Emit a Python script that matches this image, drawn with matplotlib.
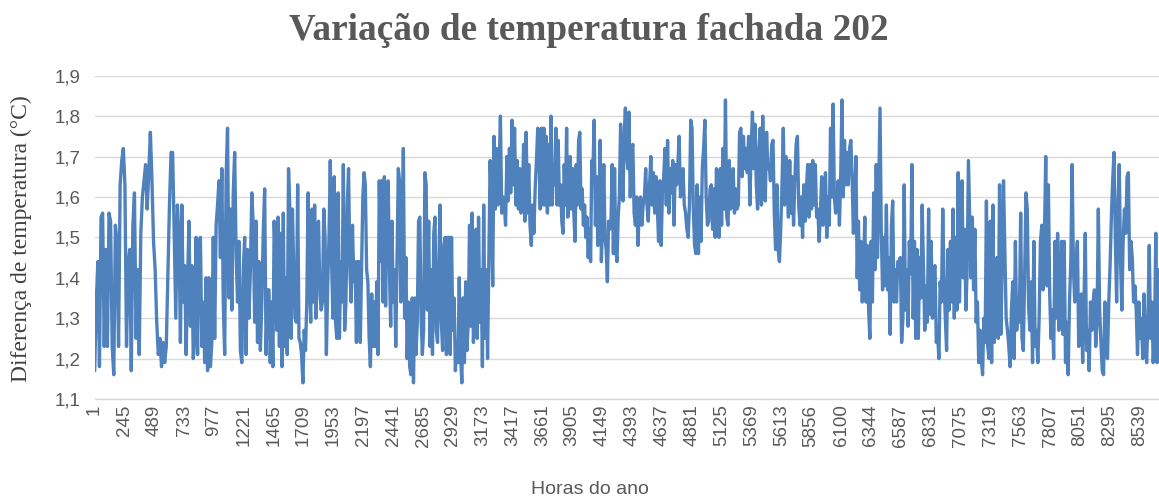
import numpy as np
import matplotlib
matplotlib.use("Agg")
import matplotlib.pyplot as plt
from matplotlib.ticker import FuncFormatter, MultipleLocator

# temperature difference (°C) over the year, read in stretches;
# each stretch begins at the hour given in segment_start_hours
segment_start_hours = [2, 691, 1426, 2162, 2897, 3633, 4368, 5104, 5839, 6575, 7310, 8054]
last_hour = 8705

seg_01 = [1.17, 1.34, 1.44, 1.18, 1.55, 1.56, 1.23, 1.47, 1.23, 1.56, 1.54, 1.23, 1.16, 1.53, 1.49, 1.23,
          1.63, 1.69, 1.72, 1.63, 1.23, 1.43, 1.47, 1.17, 1.53, 1.61, 1.25, 1.42, 1.21, 1.51, 1.60, 1.64,
          1.68, 1.57, 1.66, 1.76, 1.64, 1.49, 1.42, 1.29, 1.21, 1.25, 1.18, 1.24, 1.19, 1.23, 1.40, 1.58,
          1.71, 1.71, 1.50, 1.30, 1.58]
seg_02 = [1.50, 1.24, 1.58, 1.34, 1.43, 1.21, 1.39, 1.54, 1.28, 1.43, 1.20, 1.26, 1.50, 1.21, 1.49, 1.50,
          1.23, 1.34, 1.19, 1.40, 1.17, 1.40, 1.18, 1.24, 1.50, 1.25, 1.53, 1.58, 1.64, 1.45, 1.67, 1.34,
          1.21, 1.65, 1.77, 1.35, 1.57, 1.32, 1.61, 1.71, 1.46, 1.34, 1.49, 1.22, 1.19, 1.42, 1.50, 1.21,
          1.47, 1.30, 1.42, 1.61, 1.53, 1.29, 1.54, 1.24, 1.44, 1.22, 1.34, 1.51, 1.62, 1.21, 1.37]
seg_03 = [1.37, 1.19, 1.34, 1.18, 1.54, 1.44, 1.27, 1.55, 1.23, 1.51, 1.18, 1.56, 1.23, 1.40, 1.21, 1.67,
          1.57, 1.25, 1.57, 1.42, 1.30, 1.29, 1.63, 1.25, 1.24, 1.21, 1.14, 1.27, 1.22, 1.34, 1.61, 1.40,
          1.29, 1.57, 1.34, 1.58, 1.30, 1.52, 1.54, 1.36, 1.32, 1.34, 1.57, 1.50, 1.21, 1.38, 1.50, 1.69,
          1.44, 1.30, 1.65, 1.29, 1.25, 1.61, 1.25, 1.44, 1.34, 1.68, 1.27, 1.34, 1.58, 1.67, 1.42, 1.34,
          1.53, 1.39, 1.44, 1.24, 1.44]
seg_04 = [1.44, 1.24, 1.42, 1.60, 1.66, 1.63, 1.42, 1.39, 1.25, 1.18, 1.36, 1.23, 1.34, 1.23, 1.39, 1.21,
          1.64, 1.44, 1.64, 1.34, 1.65, 1.33, 1.61, 1.64, 1.42, 1.28, 1.54, 1.34, 1.42, 1.23, 1.44, 1.67,
          1.64, 1.34, 1.47, 1.72, 1.30, 1.45, 1.20, 1.34, 1.18, 1.16, 1.35, 1.14, 1.35, 1.21, 1.29, 1.54,
          1.55, 1.30, 1.21, 1.27, 1.66, 1.63, 1.32, 1.54, 1.23, 1.42, 1.21, 1.51, 1.55, 1.27, 1.24, 1.43,
          1.58, 1.29, 1.22, 1.48, 1.50, 1.21, 1.50]
seg_05 = [1.50, 1.21, 1.50, 1.27, 1.35, 1.17, 1.24, 1.19, 1.40, 1.21, 1.14, 1.35, 1.19, 1.39, 1.22, 1.29,
          1.53, 1.28, 1.56, 1.24, 1.34, 1.52, 1.25, 1.55, 1.29, 1.42, 1.18, 1.58, 1.25, 1.42, 1.20, 1.44,
          1.69, 1.57, 1.38, 1.75, 1.57, 1.72, 1.58, 1.67, 1.80, 1.56, 1.60, 1.58, 1.53, 1.70, 1.59, 1.72,
          1.61, 1.79, 1.63, 1.77, 1.58, 1.69, 1.57, 1.67, 1.56, 1.59, 1.73, 1.54, 1.76, 1.56, 1.68, 1.53,
          1.48, 1.58, 1.51, 1.62, 1.69, 1.77]
seg_06 = [1.70, 1.57, 1.77, 1.58, 1.77, 1.58, 1.75, 1.56, 1.73, 1.58, 1.80, 1.58, 1.68, 1.63, 1.77, 1.58,
          1.74, 1.58, 1.63, 1.54, 1.51, 1.68, 1.58, 1.77, 1.55, 1.66, 1.70, 1.57, 1.67, 1.56, 1.49, 1.68,
          1.58, 1.74, 1.76, 1.57, 1.62, 1.53, 1.58, 1.50, 1.55, 1.45, 1.52, 1.44, 1.69, 1.67, 1.79, 1.53,
          1.65, 1.48, 1.58, 1.74, 1.44, 1.54, 1.68, 1.50, 1.47, 1.39, 1.54, 1.52, 1.54, 1.68, 1.46, 1.67,
          1.47, 1.44, 1.55, 1.60, 1.78, 1.67, 1.59, 1.75, 1.82, 1.71, 1.67]
seg_07 = [1.81, 1.60, 1.71, 1.73, 1.56, 1.53, 1.60, 1.48, 1.57, 1.60, 1.53, 1.58, 1.60, 1.67, 1.58, 1.54,
          1.63, 1.70, 1.58, 1.66, 1.56, 1.65, 1.58, 1.49, 1.64, 1.48, 1.61, 1.65, 1.72, 1.58, 1.74, 1.56,
          1.67, 1.61, 1.69, 1.53, 1.68, 1.63, 1.68, 1.75, 1.60, 1.64, 1.67, 1.58, 1.56, 1.52, 1.50, 1.58,
          1.79, 1.77, 1.57, 1.48, 1.46, 1.63, 1.46, 1.60, 1.49, 1.67, 1.72, 1.79, 1.60, 1.53, 1.54, 1.62,
          1.63, 1.52, 1.62, 1.50, 1.67, 1.56]
seg_08 = [1.50, 1.67, 1.53, 1.72, 1.57, 1.84, 1.55, 1.53, 1.69, 1.57, 1.58, 1.67, 1.56, 1.62, 1.57, 1.58,
          1.76, 1.77, 1.65, 1.75, 1.67, 1.72, 1.66, 1.75, 1.58, 1.72, 1.81, 1.67, 1.78, 1.63, 1.57, 1.72,
          1.77, 1.58, 1.80, 1.63, 1.59, 1.76, 1.67, 1.68, 1.64, 1.73, 1.74, 1.56, 1.47, 1.63, 1.47, 1.44,
          1.52, 1.63, 1.77, 1.58, 1.70, 1.64, 1.55, 1.69, 1.56, 1.65, 1.53, 1.64, 1.73, 1.75, 1.58, 1.53,
          1.60, 1.50, 1.63, 1.54, 1.62, 1.68]
seg_09 = [1.55, 1.68, 1.57, 1.69, 1.58, 1.68, 1.55, 1.57, 1.49, 1.56, 1.65, 1.53, 1.58, 1.66, 1.50, 1.60,
          1.53, 1.77, 1.60, 1.83, 1.60, 1.56, 1.58, 1.64, 1.53, 1.65, 1.84, 1.60, 1.74, 1.63, 1.71, 1.63,
          1.72, 1.74, 1.65, 1.51, 1.57, 1.70, 1.40, 1.54, 1.37, 1.49, 1.34, 1.42, 1.55, 1.34, 1.48, 1.32,
          1.25, 1.49, 1.34, 1.61, 1.42, 1.68, 1.45, 1.63, 1.82, 1.51, 1.37, 1.50, 1.38, 1.58, 1.37, 1.45,
          1.26, 1.53, 1.59, 1.34, 1.42, 1.34, 1.44]
seg_10 = [1.44, 1.45, 1.24, 1.30, 1.63, 1.32, 1.42, 1.28, 1.49, 1.41, 1.68, 1.30, 1.49, 1.25, 1.47, 1.25,
          1.45, 1.35, 1.58, 1.42, 1.27, 1.38, 1.29, 1.57, 1.31, 1.49, 1.30, 1.42, 1.43, 1.24, 1.26, 1.20,
          1.39, 1.34, 1.57, 1.40, 1.30, 1.22, 1.47, 1.32, 1.49, 1.34, 1.57, 1.30, 1.50, 1.32, 1.66, 1.34,
          1.50, 1.64, 1.40, 1.52, 1.32, 1.42, 1.69, 1.54, 1.40, 1.55, 1.37, 1.52, 1.29, 1.34, 1.19, 1.27,
          1.20, 1.16, 1.30, 1.24, 1.59, 1.23]
seg_11 = [1.20, 1.54, 1.19, 1.58, 1.24, 1.37, 1.45, 1.25, 1.63, 1.26, 1.44, 1.64, 1.47, 1.30, 1.27, 1.23,
          1.18, 1.32, 1.39, 1.20, 1.49, 1.27, 1.35, 1.29, 1.56, 1.25, 1.22, 1.40, 1.61, 1.57, 1.33, 1.27,
          1.39, 1.19, 1.49, 1.23, 1.27, 1.19, 1.30, 1.49, 1.53, 1.37, 1.50, 1.70, 1.38, 1.63, 1.36, 1.25,
          1.32, 1.20, 1.49, 1.30, 1.51, 1.27, 1.39, 1.49, 1.26, 1.49, 1.19, 1.29, 1.16, 1.34, 1.44, 1.68,
          1.42, 1.34, 1.44, 1.49, 1.23]
seg_12 = [1.25, 1.36, 1.19, 1.34, 1.51, 1.22, 1.27, 1.17, 1.34, 1.27, 1.34, 1.37, 1.23, 1.29, 1.57, 1.32,
          1.24, 1.17, 1.16, 1.34, 1.25, 1.20, 1.34, 1.43, 1.55, 1.64, 1.71, 1.50, 1.34, 1.57, 1.68, 1.44,
          1.32, 1.49, 1.57, 1.51, 1.65, 1.66, 1.42, 1.49, 1.45, 1.34, 1.38, 1.32, 1.21, 1.34, 1.25, 1.30,
          1.20, 1.36, 1.24, 1.19, 1.30, 1.48, 1.25, 1.34, 1.19, 1.25, 1.51, 1.19, 1.42]

# category labels shown every 244 hours
hour_labels = ["1", "245", "489", "733", "977", "1221", "1465", "1709", "1953", "2197", "2441",
               "2685", "2929", "3173", "3417", "3661", "3905", "4149", "4393", "4637", "4881",
               "5125", "5369", "5613", "5856", "6100", "6344", "6587", "6831", "7075", "7319",
               "7563", "7807", "8051", "8295", "8539"]
label_step = 244
n_hours = 8760

segments = [seg_01, seg_02, seg_03, seg_04, seg_05, seg_06,
            seg_07, seg_08, seg_09, seg_10, seg_11, seg_12]
bounds = segment_start_hours + [last_hour]
hours = np.concatenate([np.linspace(bounds[i], bounds[i + 1], len(s), endpoint=False)
                        for i, s in enumerate(segments)])
values = np.concatenate(segments)

W, H = 1159, 500
fig = plt.figure(figsize=(W / 100, H / 100), dpi=100)
# plot area runs past the right edge of the canvas
ax = fig.add_axes([94.5 / W, 101 / H, 1072 / W, 323.3 / H])

ax.plot(hours, values, color="#4F81BD", lw=2.4, solid_joinstyle="round", solid_capstyle="round")

ax.set_xlim(0.5, n_hours + 0.5)
ax.set_ylim(1.1, 1.9)
ax.yaxis.set_major_locator(MultipleLocator(0.1))
ax.yaxis.set_major_formatter(FuncFormatter(lambda v, p: f"{v:.1f}".replace(".", ",")))
ax.grid(axis="y", color="#D9D9D9", lw=1.0)
ax.set_axisbelow(True)

ax.set_xticks([1 + label_step * i for i in range(len(hour_labels))])
ax.set_xticklabels(hour_labels, rotation=90)

for side in ("top", "right", "left"):
    ax.spines[side].set_visible(False)
ax.spines["bottom"].set_color("#D9D9D9")
ax.spines["bottom"].set_linewidth(1.0)

ax.tick_params(axis="both", length=0, labelcolor="#595959")
ax.tick_params(axis="x", pad=4)
ax.tick_params(axis="y", pad=10)
for lbl in ax.get_xticklabels() + ax.get_yticklabels():
    lbl.set_fontfamily("Liberation Sans")
    lbl.set_fontsize(13.5)

fig.text(589 / W, 1 - 31 / H, "Variação de temperatura fachada 202", ha="center", va="center",
         family="Liberation Serif", weight="bold", fontsize=26.8, color="#595959")
fig.text(21 / W, 1 - 239 / H, "Diferença de temperatura (°C)", ha="center", va="center",
         rotation=90, family="Liberation Serif", fontsize=17, color="#404040")
fig.text(590 / W, 1 - 489 / H, "Horas do ano", ha="center", va="center",
         family="Liberation Sans", fontsize=14, color="#595959")

fig.savefig("out.png", dpi=100)
